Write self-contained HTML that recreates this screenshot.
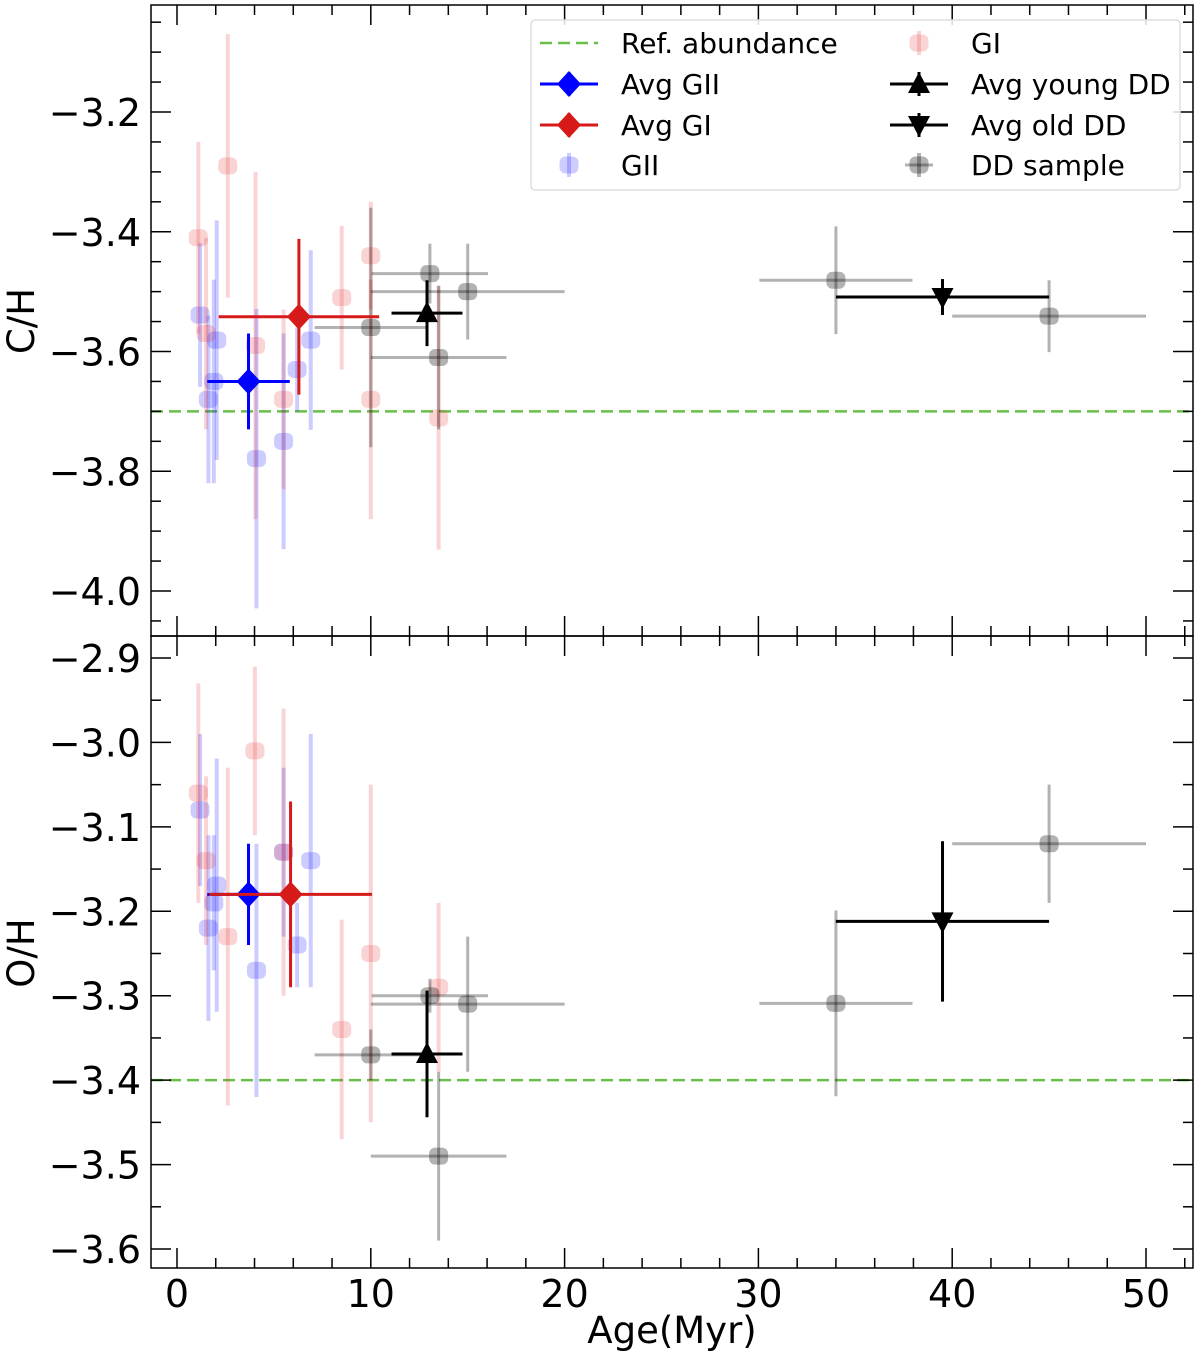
<!DOCTYPE html>
<html><head><meta charset="utf-8"><style>
body{margin:0;background:#fff;}
svg{display:block;font-family:"DejaVu Sans","Liberation Sans",sans-serif;}
</style></head><body>
<svg id="chart" width="1200" height="1356" viewBox="0 0 1200 1356" xmlns="http://www.w3.org/2000/svg"></svg>
<script>
// ---- data ----
const giiAge=[1.19,2.05,1.9,1.62,4.1,5.5,6.2,6.9];
const giiCH=[-3.539,-3.581,-3.65,-3.68,-3.779,-3.75,-3.63,-3.581];
const giiCHerr=[0.12,0.2,0.17,0.14,0.25,0.18,0.07,0.15];
const giiOH=[-3.08,-3.169,-3.19,-3.22,-3.27,-3.13,-3.24,-3.14];
const giiOHerr=[0.09,0.15,0.08,0.11,0.15,0.1,0.05,0.15];
const giAgeC=[1.1,1.5,2.62,4.05,5.5,8.5,10,10,13.5];
const giCH=[-3.41,-3.57,-3.29,-3.59,-3.68,-3.51,-3.44,-3.68,-3.711];
const giCHerr=[0.16,0.16,0.22,0.29,0.15,0.12,0.09,0.2,0.22];
const giAgeO=[1.1,1.5,2.62,4.02,5.5,8.5,10,13.5];
const giOH=[-3.06,-3.14,-3.23,-3.01,-3.13,-3.34,-3.25,-3.29];
const giOHerr=[0.13,0.1,0.2,0.1,0.17,0.13,0.2,0.1];
const ddAge=[10,13.05,15,13.5,34,45];
const ddAgeErr=[2.9,3,5,3.5,3.95,5];
const ddCH=[-3.56,-3.47,-3.5,-3.61,-3.481,-3.541];
const ddCHerr=[0.2,0.05,0.08,0.12,0.09,0.06];
const ddOH=[-3.37,-3.3,-3.31,-3.49,-3.309,-3.12];
const ddOHerr=[0.03,0.02,0.08,0.1,0.11,0.07];
const avgAge=[3.69,6.29,12.9,39.5];
const avgAgeErrC=[2.13,4.14,1.83,5.5];
const avgCH=[-3.65,-3.542,-3.536,-3.509];
const avgCHerr=[0.08,0.13,0.055,0.03];
const avgAgeO=[3.69,5.86,12.9,39.5];
const avgAgeErrO=[2.13,4.2,1.83,5.5];
const avgOH=[-3.18,-3.18,-3.369,-3.212];
const avgOHerr=[0.06,0.11,0.075,0.095];
const refCH=-3.7, refOH=-3.4;
const xTicks=[0,10,20,30,40,50];
const chTicks=[-3.2,-3.4,-3.6,-3.8,-4.0];
const ohTicks=[-2.9,-3.0,-3.1,-3.2,-3.3,-3.4,-3.5,-3.6];

// ---- layout ----
const L=151,R=1193;
const X=a=>177+a*19.38;
const P1={top:5,bot:636,y:v=>112+(-3.2-v)*598.75};
const P2={top:636,bot:1268,y:v=>658+(-2.9-v)*844.3};
const svg=document.getElementById('chart');
const NS='http://www.w3.org/2000/svg';
function mk(tag,attrs,parent){const e=document.createElementNS(NS,tag);for(const k in attrs)e.setAttribute(k,attrs[k]);(parent||svg).appendChild(e);return e;}

function panel(P,name){
  const g=mk('g',{});
  
  
  return g;
}
function errbar(g,x,y,xe,ye,P,col,op,w){
  if(ye) mk('line',{x1:X(x),x2:X(x),y1:P.y(y-ye),y2:P.y(y+ye),stroke:col,'stroke-opacity':op,'stroke-width':w},g);
  if(xe) mk('line',{x1:X(x-xe),x2:X(x+xe),y1:P.y(y),y2:P.y(y),stroke:col,'stroke-opacity':op,'stroke-width':w},g);
}
function sq(g,cx,cy,col,op){mk('rect',{x:cx-9.5,y:cy-8.5,width:19,height:17,rx:6,fill:col,'fill-opacity':op},g);}
function diamond(g,cx,cy,col){mk('polygon',{points:`${cx},${cy-13} ${cx+12},${cy} ${cx},${cy+13} ${cx-12},${cy}`,fill:col},g);}
function tri(g,cx,cy,up){const s=up?1:-1;mk('polygon',{points:`${cx},${cy-12*s} ${cx+11},${cy+9*s} ${cx-11},${cy+9*s}`,fill:'#000'},g);}

function drawPanel(P,pname,gAge,gV,gE,rAge,rV,rE,dV,dE,aAge,aAgeE,aV,aE,ref){
  const g=panel(P,pname);
  mk('line',{x1:L,x2:R,y1:P.y(ref),y2:P.y(ref),stroke:'#6abf4b','stroke-width':2.5,'stroke-dasharray':'12,6'},g);
  const gg=mk('g',{},g);
  gAge.forEach((a,i)=>{errbar(gg,a,gV[i],0,gE[i],P,'#0000ff',0.2,4);sq(gg,X(a),P.y(gV[i]),'#0000ff',0.2);});
  const gr=mk('g',{},g);
  rAge.forEach((a,i)=>{errbar(gr,a,rV[i],0,rE[i],P,'#e8272a',0.2,4);sq(gr,X(a),P.y(rV[i]),'#e8272a',0.2);});
  const gd=mk('g',{},g);
  ddAge.forEach((a,i)=>{errbar(gd,a,dV[i],ddAgeErr[i],dE[i],P,'#000',0.3,3);sq(gd,X(a),P.y(dV[i]),'#000',0.3);});
  const cols=['#0000ff','#d61a1a','#000','#000'];
  const names=['avg-gii','avg-gi','avg-young-dd','avg-old-dd'];
  aAge.forEach((a,i)=>{
    const ga=mk('g',{},g);
    errbar(ga,a,aV[i],aAgeE[i],aE[i],P,cols[i],1,3);
    const cx=X(a),cy=P.y(aV[i]);
    if(i<2)diamond(ga,cx,cy,cols[i]);else tri(ga,cx,cy,i===2);
  });
  mk('rect',{x:L,y:P.top,width:R-L,height:P.bot-P.top,fill:'none',stroke:'#000','stroke-width':1.5},g);
  for(let a=0;a<=52;a+=2){const maj=a%10===0,len=maj?20:10,x=X(a);
    mk('line',{x1:x,x2:x,y1:P.top,y2:P.top+len,stroke:'#000','stroke-width':1.5},g);
    mk('line',{x1:x,x2:x,y1:P.bot,y2:P.bot-len,stroke:'#000','stroke-width':1.5},g);}
}
drawPanel(P1,'ch-panel',giiAge,giiCH,giiCHerr,giAgeC,giCH,giCHerr,ddCH,ddCHerr,avgAge,avgAgeErrC,avgCH,avgCHerr,refCH);
drawPanel(P2,'oh-panel',giiAge,giiOH,giiOHerr,giAgeO,giOH,giOHerr,ddOH,ddOHerr,avgAgeO,avgAgeErrO,avgOH,avgOHerr,refOH);

function yticks(P,lo,hi,majors){
  for(let k=Math.round(lo*20);k<=Math.round(hi*20);k++){const v=k/20,y=P.y(v);if(y<P.top+1||y>P.bot-1)continue;
    const maj=majors.some(m=>Math.abs(m-v)<1e-6),len=maj?20:10;
    mk('line',{x1:L,x2:L+len,y1:y,y2:y,stroke:'#000','stroke-width':1.5});
    mk('line',{x1:R,x2:R-len,y1:y,y2:y,stroke:'#000','stroke-width':1.5});}
  majors.forEach(v=>{const t=mk('text',{x:141,y:P.y(v)+14,'text-anchor':'end','font-size':38});t.textContent='\u2212'+Math.abs(v).toFixed(1);
    });
}
yticks(P1,-4.1,-3.0,chTicks);
yticks(P2,-3.65,-2.85,ohTicks);
xTicks.forEach(a=>{const t=mk('text',{x:X(a),y:1307,'text-anchor':'middle','font-size':38});t.textContent=a;
  });
let t=mk('text',{x:672,y:1343,'text-anchor':'middle','font-size':37});t.textContent='Age(Myr)';
t=mk('text',{x:0,y:0,'text-anchor':'middle','font-size':37,transform:'translate(34,321) rotate(-90)'});t.textContent='C/H';
t=mk('text',{x:0,y:0,'text-anchor':'middle','font-size':37,transform:'translate(34,953) rotate(-90)'});t.textContent='O/H';

const lg=mk('g',{});
mk('rect',{x:531,y:20,width:649,height:170,rx:4,fill:'#fff','fill-opacity':0.85,stroke:'#ddd','stroke-width':1.5},lg);
const legs=[
 [540,43,'Ref. abundance','ref'],[540,84,'Avg GII','dg'],[540,125,'Avg GI','dr'],[540,165,'GII','sb'],
 [890,43,'GI','sr'],[890,84,'Avg young DD','tu'],[890,125,'Avg old DD','td'],[890,165,'DD sample','sk']];
legs.forEach(([x,y,lab,k])=>{
  const e=mk('g',{},lg);
  const cx=x+29;
  if(k==='ref')mk('line',{x1:x,x2:x+58,y1:y,y2:y,stroke:'#6abf4b','stroke-width':2.5,'stroke-dasharray':'12,6'},e);
  if(k==='dg'||k==='dr'){const c=k==='dg'?'#0000ff':'#d61a1a';mk('line',{x1:x,x2:x+58,y1:y,y2:y,stroke:c,'stroke-width':3},e);mk('line',{x1:cx,x2:cx,y1:y-12,y2:y+12,stroke:c,'stroke-width':3},e);diamond(e,cx,y,c);}
  if(k==='tu'||k==='td'){mk('line',{x1:x,x2:x+58,y1:y,y2:y,stroke:'#000','stroke-width':3},e);mk('line',{x1:cx,x2:cx,y1:y-12,y2:y+12,stroke:'#000','stroke-width':3},e);tri(e,cx,y,k==='tu');}
  if(k==='sb'||k==='sr'||k==='sk'){const c=k==='sb'?'#0000ff':k==='sr'?'#e8272a':'#000',o=k==='sk'?0.3:0.2;mk('line',{x1:cx,x2:cx,y1:y-12,y2:y+12,stroke:c,'stroke-opacity':o,'stroke-width':4},e);if(k==='sk')mk('line',{x1:cx-14,x2:cx+14,y1:y,y2:y,stroke:c,'stroke-opacity':o,'stroke-width':3},e);sq(e,cx,y,c,o);}
  const tt=mk('text',{x:x+81,y:y+10,'font-size':28},e);tt.textContent=lab;
});
</script>
</body></html>
